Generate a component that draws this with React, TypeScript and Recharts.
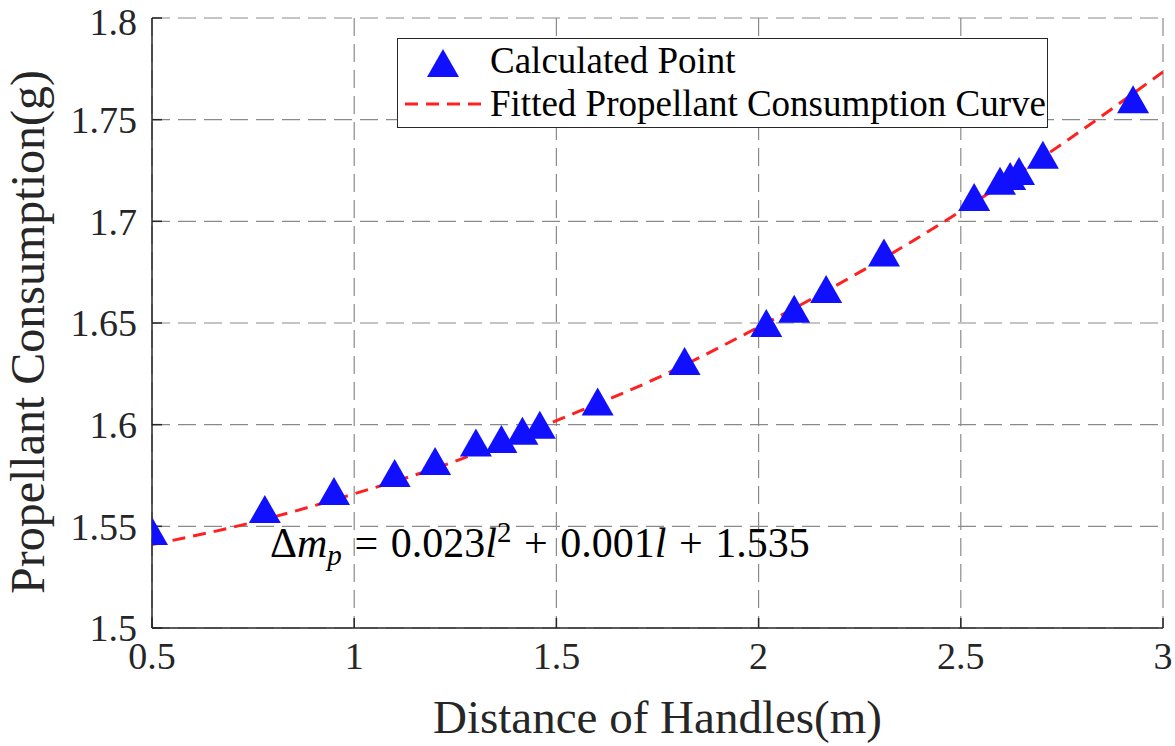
import {
  CartesianGrid,
  ComposedChart,
  Legend,
  Line,
  Scatter,
  XAxis,
  YAxis
} from 'recharts';

// handle distance (m) of each calculated point
const pointX = [
  0.5, 0.779, 0.95, 1.1, 1.2, 1.301, 1.364, 1.416, 1.459, 1.602, 1.817,
  2.019, 2.088, 2.167, 2.31, 2.533, 2.597, 2.622, 2.644, 2.703, 2.926
];
// propellant consumption (g) of each calculated point
const pointY = [
  1.5477, 1.5585, 1.5674, 1.5762, 1.5821, 1.5912, 1.593, 1.597, 1.6, 1.6114, 1.6313,
  1.65, 1.657, 1.6667, 1.6847, 1.712, 1.7199, 1.7223, 1.7248, 1.7327, 1.76
];

// fitted curve
const curveX = [0.5, 0.75, 1, 1.25, 1.5, 1.75, 2, 2.25, 2.5, 2.75, 3];
const curveY = [1.541, 1.552, 1.566, 1.582, 1.602, 1.623, 1.648, 1.675, 1.705, 1.738, 1.7735];

const xTicks = [0.5, 1, 1.5, 2, 2.5, 3];
const yTicks = [1.5, 1.55, 1.6, 1.65, 1.7, 1.75, 1.8];

const points = pointX.map((x, i) => ({ x, y: pointY[i] }));
const curve = curveX.map((x, i) => ({ x, y: curveY[i] }));

const FONT = '"Liberation Serif", "Times New Roman", serif';
const INK = '#262626';
const BLUE = '#1010ff';
const RED = '#ff2020';

const tickStyle = { fill: INK, fontSize: 38, fontFamily: FONT, style: { fontFamily: FONT } };

function Triangle({ cx, cy }: any) {
  if (cx == null || cy == null) return null;
  return (
    <polygon
      points={`${cx},${cy - 14} ${cx - 16},${cy + 14} ${cx + 16},${cy + 14}`}
      fill={BLUE}
    />
  );
}

function LegendBox() {
  return (
    <div
      style={{
        position: 'relative',
        boxSizing: 'border-box',
        width: 651,
        height: 90,
        border: `1.5px solid ${INK}`,
        background: '#fff',
        fontFamily: FONT,
        fontSize: 37,
        lineHeight: 1.15,
        color: '#000'
      }}
    >
      <svg width={100} height={88} style={{ position: 'absolute', left: 0, top: 0 }}>
        <polygon points="45,10 29,38 61,38" fill={BLUE} />
        <line x1={7} y1={65} x2={85} y2={65} stroke={RED} strokeWidth={3} strokeDasharray="13 8" />
      </svg>
      <div style={{ position: 'absolute', left: 92, top: 1, whiteSpace: 'nowrap' }}>Calculated Point</div>
      <div style={{ position: 'absolute', left: 92, top: 44, whiteSpace: 'nowrap' }}>
        Fitted Propellant Consumption Curve
      </div>
    </div>
  );
}

const op = { padding: '0 0.3em' };

export default function App() {
  return (
    <div style={{ position: 'absolute', left: 0, top: 0, width: 1175, height: 746, background: '#fff' }}>
      <ComposedChart width={1175} height={746} margin={{ top: 18, right: 12, bottom: 0, left: 0 }}>
        <CartesianGrid stroke="#8a8a8a" strokeWidth={1.2} strokeDasharray="18 8" />
        <XAxis
          dataKey="x"
          type="number"
          domain={[0.5, 3]}
          ticks={xTicks}
          allowDataOverflow
          height={118}
          stroke={INK}
          strokeWidth={1.5}
          tickSize={-10}
          tickMargin={24}
          tick={tickStyle}
          label={{
            content: ({ viewBox }: any) => (
              <text
                x={viewBox.x + viewBox.width / 2}
                y={733}
                textAnchor="middle"
                fill={INK}
                fontSize={47}
                fontFamily={FONT}
              >
                Distance of Handles(m)
              </text>
            )
          }}
        />
        <XAxis
          xAxisId="top"
          orientation="top"
          type="number"
          domain={[0.5, 3]}
          ticks={xTicks}
          allowDataOverflow
          height={0}
          stroke={INK}
          strokeWidth={1.5}
          tickSize={-10}
          tick={false}
        />
        <YAxis
          dataKey="y"
          type="number"
          domain={[1.5, 1.8]}
          ticks={yTicks}
          allowDataOverflow
          width={152}
          stroke={INK}
          strokeWidth={1.5}
          tickSize={-10}
          tickMargin={25}
          tick={tickStyle}
          label={{
            content: () => (
              <text
                x={44}
                y={332}
                transform="rotate(-90 44 332)"
                textAnchor="middle"
                fill={INK}
                fontSize={48}
                fontFamily={FONT}
              >
                Propellant Consumption(g)
              </text>
            )
          }}
        />
        <YAxis
          yAxisId="right"
          orientation="right"
          type="number"
          domain={[1.5, 1.8]}
          ticks={yTicks}
          allowDataOverflow
          width={0}
          stroke={INK}
          strokeWidth={1.5}
          tickSize={-10}
          tick={false}
        />
        <Legend
          layout="horizontal"
          verticalAlign="middle"
          align="center"
          wrapperStyle={{ left: 397, top: 38, width: 651, height: 90 }}
          content={() => <LegendBox />}
        />
        <Scatter
          name="Calculated Point"
          data={points}
          dataKey="y"
          shape={<Triangle />}
          isAnimationActive={false}
        />
        <Line
          name="Fitted Propellant Consumption Curve"
          data={curve}
          dataKey="y"
          type="monotone"
          stroke={RED}
          strokeWidth={3}
          strokeDasharray="13 8"
          dot={false}
          activeDot={false}
          isAnimationActive={false}
        />
      </ComposedChart>
      <div
        style={{
          position: 'absolute',
          left: 270,
          top: 515,
          fontFamily: FONT,
          fontSize: 42,
          color: '#000',
          whiteSpace: 'nowrap',
          lineHeight: 1.2
        }}
      >
        Δ<i>m</i>
        <sub style={{ fontSize: 29, fontStyle: 'italic', verticalAlign: -8 }}>p</sub>
        <span style={op}>=</span>0.023<i>l</i>
        <sup style={{ fontSize: 29, verticalAlign: 15 }}>2</sup>
        <span style={op}>+</span>0.001<i>l</i>
        <span style={op}>+</span>1.535
      </div>
    </div>
  );
}
